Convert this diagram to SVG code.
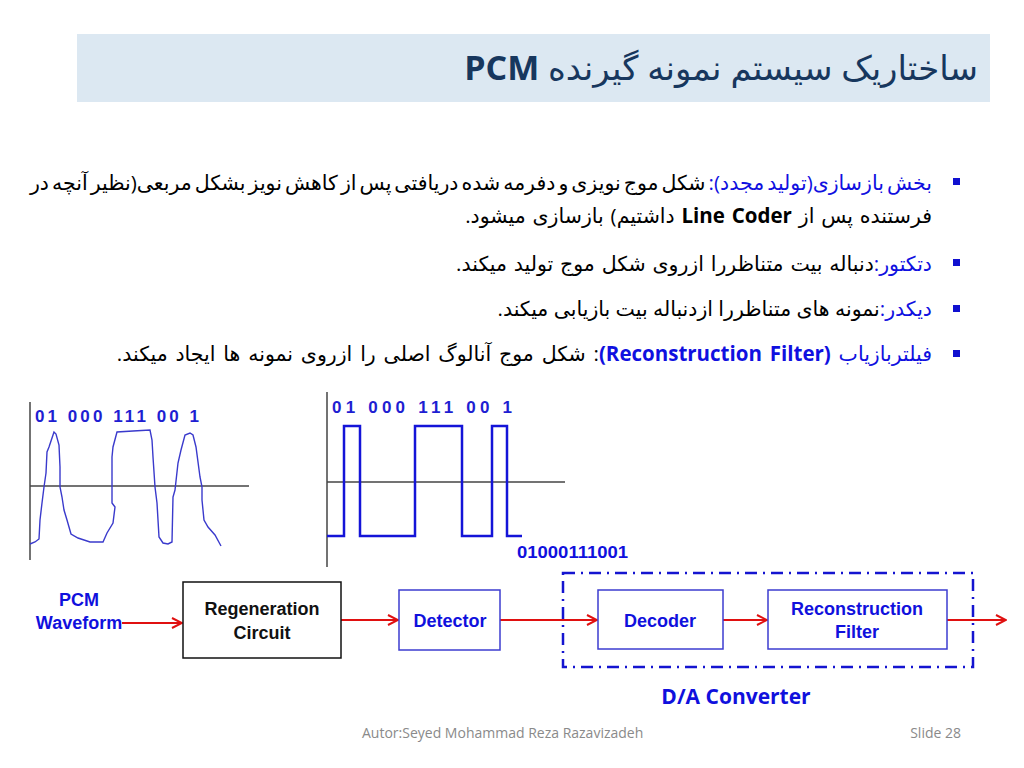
<svg xmlns="http://www.w3.org/2000/svg" width="1024" height="768" viewBox="0 0 1024 768">
<defs>
<marker id="arr" viewBox="0 0 12 12" refX="11" refY="6" markerWidth="12" markerHeight="12" markerUnits="userSpaceOnUse" orient="auto">
<path d="M1,1 L11,6 L1,11" fill="none" stroke="#e01010" stroke-width="2"/>
</marker>
<style>
.fa{font-family:'Open Sans','DejaVu Sans',sans-serif;font-size:20.5px;fill:#000;}
.kw{fill:#1010e0;}
.bul{fill:#1010d0;}
.lbl{font-family:'Liberation Sans',Arial,sans-serif;font-weight:bold;font-size:18px;text-anchor:middle;}
.blue{fill:#1010dd;}
.conn{stroke:#e01010;stroke-width:2.2;fill:none;}
.box{fill:#fff;stroke:#3c3cd0;stroke-width:1.5;}
.bits{font-family:'Liberation Sans',Arial,sans-serif;font-size:17px;font-weight:bold;fill:#1e1ed2;}
.axis{stroke:#444;stroke-width:1.5;}
.foot{font-family:'Open Sans','Liberation Sans',sans-serif;font-size:14px;fill:#8a8a8a;}
</style>
</defs>
<rect width="1024" height="768" fill="#fff"/>

<g id="title">
<rect x="77" y="34" width="913" height="68" fill="#dce8f2"/>
<text x="978" y="80" direction="rtl" text-anchor="start" font-family="'Open Sans','DejaVu Sans',sans-serif" font-size="34" fill="#17375e">ساختاریک سیستم نمونه گیرنده <tspan font-weight="bold">PCM</tspan></text>
</g>

<g id="bullets">
<rect class="bul" x="953" y="178" width="7" height="7"/>
<rect class="bul" x="953" y="259" width="7" height="7"/>
<rect class="bul" x="953" y="305" width="7" height="7"/>
<rect class="bul" x="953" y="350" width="7" height="7"/>
<text class="fa" x="932" y="190" direction="rtl" text-anchor="start" word-spacing="-2.3"><tspan class="kw">بخش بازسازی(تولید مجدد):</tspan> شکل موج نویزی و دفرمه شده دریافتی پس از کاهش نویز بشکل مربعی(نظیر آنچه در</text>
<text class="fa" x="932" y="223" direction="rtl" text-anchor="start" word-spacing="1.5">فرستنده پس از <tspan font-weight="bold">Line Coder</tspan> داشتیم) بازسازی میشود.</text>
<text class="fa" x="932" y="271" direction="rtl" text-anchor="start" word-spacing="1.5"><tspan class="kw">دتکتور:</tspan>دنباله بیت متناظررا ازروی شکل موج تولید میکند.</text>
<text class="fa" x="932" y="316" direction="rtl" text-anchor="start"><tspan class="kw">دیکدر:</tspan>نمونه های متناظررا ازدنباله بیت بازیابی میکند.</text>
<text class="fa" x="932" y="361" direction="rtl" text-anchor="start" word-spacing="2.5"><tspan class="kw">فیلتربازیاب </tspan><tspan class="kw" font-weight="bold">(Reconstruction Filter)</tspan>: شکل موج آنالوگ اصلی را ازروی نمونه ها ایجاد میکند.</text>
</g>

<g id="wave-noisy">
<line class="axis" x1="30" y1="402" x2="30" y2="560"/>
<line class="axis" x1="30" y1="486" x2="249" y2="486"/>
<text class="bits" x="35" y="422" textLength="164" lengthAdjust="spacing">01 000 111 00 1</text>
<path d="M30,544 L35,542 L39,539 L40,520 L42,503 L44,487 L46,473 L47,452 L49,447 L52,438 L54,432 L56,434 L59,445 L60,467 L60,487 L62,497 L64,510 L67,520 L71,534 L78,538 L90,542 L103,542 L107,533 L113,523 L115,507 L112,503 L112,457 L113,447 L117,432 L133,431 L150,430 L152,440 L153,457 L155,487 L157,503 L159,537 L163,543 L168,544 L172,542 L173,497 L175,490 L178,463 L181,450 L185,435 L190,433 L193,435 L196,447 L200,477 L202,487 L202,500 L204,520 L208,527 L215,535 L221,546" fill="none" stroke="#3a3acc" stroke-width="1.4"/>
</g>

<g id="wave-square">
<line class="axis" x1="327" y1="392" x2="327" y2="567"/>
<line class="axis" x1="327" y1="482" x2="565" y2="482"/>
<text class="bits" x="332" y="413" textLength="180" lengthAdjust="spacing">01 000 111 00 1</text>
<path d="M327,536 L344,536 L344,426 L360,426 L360,536 L415,536 L415,426 L462,426 L462,536 L492,536 L492,426 L507,426 L507,536 L522,536" fill="none" stroke="#1414d8" stroke-width="2.5"/>
<text x="517" y="558" font-family="'Liberation Sans',Arial,sans-serif" font-weight="bold" font-size="17" fill="#1010dd" textLength="111" lengthAdjust="spacingAndGlyphs">01000111001</text>
</g>

<g id="connectors">
<line class="conn" x1="122" y1="623" x2="182" y2="623" marker-end="url(#arr)"/>
<line class="conn" x1="341" y1="620" x2="398" y2="620" marker-end="url(#arr)"/>
<line class="conn" x1="500" y1="620" x2="597" y2="620" marker-end="url(#arr)"/>
<line class="conn" x1="706" y1="620" x2="767" y2="620" marker-end="url(#arr)"/>
<line class="conn" x1="947" y1="620" x2="1006" y2="620" marker-end="url(#arr)"/>
</g>

<g id="pcm-input">
<text class="lbl blue" x="79" y="606">PCM</text>
<text class="lbl blue" x="79" y="629">Waveform</text>
</g>

<g id="regeneration">
<rect x="183" y="582" width="158" height="76" fill="#fff" stroke="#111" stroke-width="1.5"/>
<text class="lbl" x="262" y="615" fill="#111">Regeneration</text>
<text class="lbl" x="262" y="639" fill="#111">Circuit</text>
</g>

<g id="detector">
<rect class="box" x="399" y="590" width="101" height="60"/>
<text class="lbl blue" x="450" y="627">Detector</text>
</g>

<g id="da-converter">
<rect x="563" y="573" width="410" height="94" fill="none" stroke="#1414d0" stroke-width="2.5" stroke-dasharray="12,6,2,6"/>
<text x="736" y="704" text-anchor="middle" font-family="'Open Sans','Liberation Sans',sans-serif" font-weight="bold" font-size="21" fill="#1010dd">D/A Converter</text>
</g>

<g id="decoder">
<rect class="box" x="598" y="590" width="125" height="59"/>
<text class="lbl blue" x="660" y="627">Decoder</text>
</g>

<g id="reconstruction">
<rect class="box" x="768" y="590" width="179" height="59"/>
<text class="lbl blue" x="857" y="615">Reconstruction</text>
<text class="lbl blue" x="857" y="638">Filter</text>
</g>

<g id="footer">
<text class="foot" x="362" y="738">Autor:Seyed Mohammad Reza Razavizadeh</text>
<text class="foot" x="961" y="738" text-anchor="end">Slide 28</text>
</g>
</svg>
